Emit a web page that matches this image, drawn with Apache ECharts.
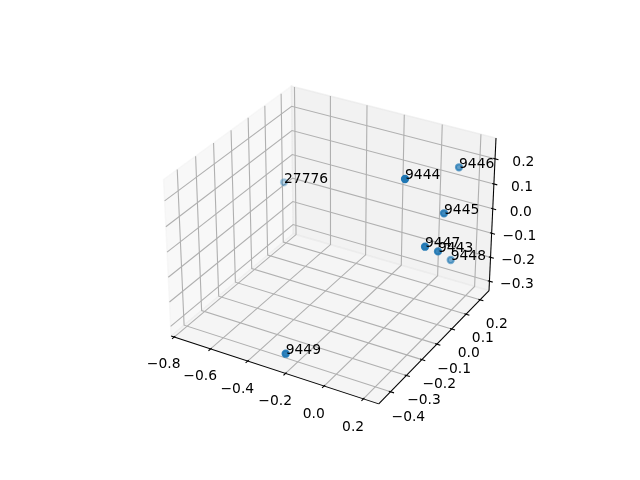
<!DOCTYPE html>
<html><head><meta charset="utf-8">
<script src="https://cdn.jsdelivr.net/npm/echarts@6/dist/echarts.min.js"></script>
<style>html,body{margin:0;padding:0;background:#fff}#c{width:640px;height:480px}</style>
</head><body><div id="c"></div>
<script>
// ---- data ----
const labels = ['27776', '9444', '9446', '9445', '9447', '9443', '9448', '9449'];
const xs = [-0.7475, 0.0575, 0.1280, 0.1829, 0.1871, 0.2074, 0.1635, -0.2406];
const ys = [0.1342, -0.0527, 0.2178, 0.0481, -0.0799, -0.0184, 0.1326, -0.4256];
const zs = [-0.0346, 0.2417, 0.1608, 0.0801, 0.0204, -0.0287, -0.1602, -0.3007];
// axis limits and ticks
const xLim = [-0.795, 0.255];
const yLim = [-0.458, 0.250];
const zLim = [-0.328, 0.269];
const xTicks = [-0.8, -0.6, -0.4, -0.2, 0.0, 0.2];
const xTickLabels = ['\u22120.8', '\u22120.6', '\u22120.4', '\u22120.2', '0.0', '0.2'];
const yTicks = [-0.4, -0.3, -0.2, -0.1, 0.0, 0.1, 0.2];
const yTickLabels = ['\u22120.4', '\u22120.3', '\u22120.2', '\u22120.1', '0.0', '0.1', '0.2'];
const zTicks = [-0.3, -0.2, -0.1, 0.0, 0.1, 0.2];
const zTickLabels = ['\u22120.3', '\u22120.2', '\u22120.1', '0.0', '0.1', '0.2'];

// ---- matplotlib-like 3D projection (elev 30, azim -60, persp) ----
const ELEV = 30, AZIM = -60, DIST = 10;
const ba0 = [4, 4, 3];
const bn = Math.hypot(ba0[0], ba0[1], ba0[2]);
const BA = ba0.map(v => v * 1.8294640721620434 / bn);
const er = ELEV * Math.PI / 180, ar = AZIM * Math.PI / 180;
const ps = [Math.cos(er) * Math.cos(ar), Math.cos(er) * Math.sin(ar), Math.sin(er)];
const RC = BA.map(v => v / 2);
const eye = RC.map((r, i) => r + DIST * ps[i]);
const dot = (a, b) => a[0] * b[0] + a[1] * b[1] + a[2] * b[2];
const cross = (a, b) => [a[1] * b[2] - a[2] * b[1], a[2] * b[0] - a[0] * b[2], a[0] * b[1] - a[1] * b[0]];
const unit = a => { const n = Math.hypot(a[0], a[1], a[2]); return a.map(v => v / n); };
const W = unit(eye.map((e, i) => e - RC[i]));
const U = unit(cross([0, 0, 1], W));
const V = cross(W, U);
function project(x, y, z) {
  const p = [(x - xLim[0]) / (xLim[1] - xLim[0]) * BA[0],
             (y - yLim[0]) / (yLim[1] - yLim[0]) * BA[1],
             (z - zLim[0]) / (zLim[1] - zLim[0]) * BA[2]];
  const d = [p[0] - eye[0], p[1] - eye[1], p[2] - eye[2]];
  const vx = dot(U, d), vy = dot(V, d), vz = dot(W, d);
  return [vx / (-vz), vy / (-vz), 10 / vz];
}
const P2 = (p) => { const r = project(p[0], p[1], p[2]); return [r[0], r[1]]; };

// padded bounds like mpl axis3d
function padded(lim) { const d = (lim[1] - lim[0]) / 12; return { lo: lim[0] - d / 4, hi: lim[1] + d / 4, d: d }; }
const PX = padded(xLim), PY = padded(yLim), PZ = padded(zLim);
const dpp = 48 / (72 * 3.696 * 2);
const LD = (3.5 + 8) * dpp;
const ldX = LD * PX.d, ldY = LD * PY.d, ldZ = LD * PZ.d;

// ---- static primitives (panes, grid, axis lines, ticks) ----
const prims = [];
const paneX = 'rgba(242,242,242,0.5)', paneY = 'rgba(230,230,230,0.5)', paneZ = 'rgba(236,236,236,0.5)';
prims.push({ pts: [[PX.lo, PY.lo, PZ.lo], [PX.lo, PY.hi, PZ.lo], [PX.lo, PY.hi, PZ.hi], [PX.lo, PY.lo, PZ.hi]], fill: paneX, stroke: paneX, lw: 1.39, poly: true });
prims.push({ pts: [[PX.lo, PY.hi, PZ.lo], [PX.hi, PY.hi, PZ.lo], [PX.hi, PY.hi, PZ.hi], [PX.lo, PY.hi, PZ.hi]], fill: paneY, stroke: paneY, lw: 1.39, poly: true });
prims.push({ pts: [[PX.lo, PY.lo, PZ.lo], [PX.hi, PY.lo, PZ.lo], [PX.hi, PY.hi, PZ.lo], [PX.lo, PY.hi, PZ.lo]], fill: paneZ, stroke: paneZ, lw: 1.39, poly: true });
const gridC = '#b0b0b0', gridW = 1.11;
xTicks.forEach(t => prims.push({ pts: [[t, PY.lo, PZ.lo], [t, PY.hi, PZ.lo], [t, PY.hi, PZ.hi]], stroke: gridC, lw: gridW }));
yTicks.forEach(t => prims.push({ pts: [[PX.lo, t, PZ.hi], [PX.lo, t, PZ.lo], [PX.hi, t, PZ.lo]], stroke: gridC, lw: gridW }));
zTicks.forEach(t => prims.push({ pts: [[PX.hi, PY.hi, t], [PX.lo, PY.hi, t], [PX.lo, PY.lo, t]], stroke: gridC, lw: gridW }));
// axis lines
prims.push({ pts: [[PX.lo, PY.lo, PZ.lo], [PX.hi, PY.lo, PZ.lo]], stroke: '#000', lw: 1.04 });
prims.push({ pts: [[PX.hi, PY.hi, PZ.lo], [PX.hi, PY.lo, PZ.lo]], stroke: '#000', lw: 1.04 });
prims.push({ pts: [[PX.hi, PY.hi, PZ.lo], [PX.hi, PY.hi, PZ.hi]], stroke: '#000', lw: 1.04 });
// ticks
xTicks.forEach(t => prims.push({ pts: [[t, PY.lo + 0.1 * PY.d, PZ.lo], [t, PY.lo - 0.2 * PY.d, PZ.lo]], stroke: '#000', lw: 1.11 }));
yTicks.forEach(t => prims.push({ pts: [[PX.hi - 0.1 * PX.d, t, PZ.lo], [PX.hi + 0.2 * PX.d, t, PZ.lo]], stroke: '#000', lw: 1.11 }));
zTicks.forEach(t => prims.push({ pts: [[PX.hi - 0.1 * PX.d, PY.hi, t], [PX.hi + 0.2 * PX.d, PY.hi, t]], stroke: '#000', lw: 1.11 }));

// tick labels
const tickTexts = [];
xTicks.forEach((t, i) => tickTexts.push({ p: [t, PY.lo - ldY, PZ.lo - ldZ], s: xTickLabels[i], dx: 0, dy: 5.8 }));
yTicks.forEach((t, i) => tickTexts.push({ p: [PX.hi + ldX, t, PZ.lo - ldZ], s: yTickLabels[i], dx: 0, dy: 7.0 }));
zTicks.forEach((t, i) => tickTexts.push({ p: [PX.hi + ldX, PY.hi + ldY, t], s: zTickLabels[i], dx: 2, dy: 7.0 }));

// ---- points with depth shading ----
const pts = labels.map((l, i) => { const r = project(xs[i], ys[i], zs[i]); return { name: l, X: r[0], Y: r[1], d: r[2] }; });
const dmin = Math.min(...pts.map(p => p.d)), dmax = Math.max(...pts.map(p => p.d));
pts.forEach(p => { p.a = 1 - 0.7 * (p.d - dmin) / (dmax - dmin); });
const drawOrder = pts.slice().sort((a, b) => b.d - a.d);

const FONT = '13.89px "DejaVu Sans"';
const chart = echarts.init(document.getElementById('c'), null, { renderer: 'canvas', width: 640, height: 480 });
chart.setOption({
  animation: false,
  backgroundColor: '#fff',
  grid: { left: 143.2, top: 57.6, width: 369.6, height: 369.6, show: false },
  xAxis: { type: 'value', min: -0.095, max: 0.09, show: false },
  yAxis: { type: 'value', min: -0.095, max: 0.09, show: false },
  series: [
    {
      type: 'custom', coordinateSystem: 'cartesian2d', silent: true, clip: false, z: 1,
      data: prims.map(() => [0, 0]),
      renderItem: function (params, api) {
        const pr = prims[params.dataIndex];
        const points = pr.pts.map(p => api.coord(P2(p)));
        if (pr.poly) {
          return { type: 'polygon', shape: { points: points }, style: { fill: pr.fill, stroke: pr.stroke, lineWidth: pr.lw } };
        }
        return { type: 'polyline', shape: { points: points }, style: { fill: null, stroke: pr.stroke, lineWidth: pr.lw } };
      }
    },
    {
      type: 'custom', coordinateSystem: 'cartesian2d', silent: true, clip: false, z: 2,
      data: tickTexts.map(() => [0, 0]),
      renderItem: function (params, api) {
        const tt = tickTexts[params.dataIndex];
        const c = api.coord(P2(tt.p));
        return { type: 'text', x: c[0] + tt.dx, y: c[1] + tt.dy,
          style: { text: tt.s, fill: '#000', font: FONT, align: 'center', verticalAlign: 'middle', textAlign: 'center', textVerticalAlign: 'middle' } };
      }
    },
    {
      type: 'scatter', silent: true, z: 3, symbol: 'circle', symbolSize: 6.21,
      data: drawOrder.map(p => ({
        name: p.name, value: [p.X, p.Y],
        itemStyle: { color: 'rgba(31,119,180,' + p.a.toFixed(3) + ')', borderColor: 'rgba(31,119,180,' + p.a.toFixed(3) + ')', borderWidth: 2.08, opacity: 1 }
      }))
    },
    {
      type: 'custom', coordinateSystem: 'cartesian2d', silent: true, clip: false, z: 4,
      data: pts.map(p => [p.X, p.Y]),
      renderItem: function (params, api) {
        const c = api.coord([api.value(0), api.value(1)]);
        return { type: 'text', x: c[0], y: c[1] - 3.3,
          style: { text: pts[params.dataIndex].name, fill: '#000', font: FONT, align: 'left', verticalAlign: 'middle', textAlign: 'left', textVerticalAlign: 'middle' } };
      }
    }
  ]
});
</script>
</body></html>
